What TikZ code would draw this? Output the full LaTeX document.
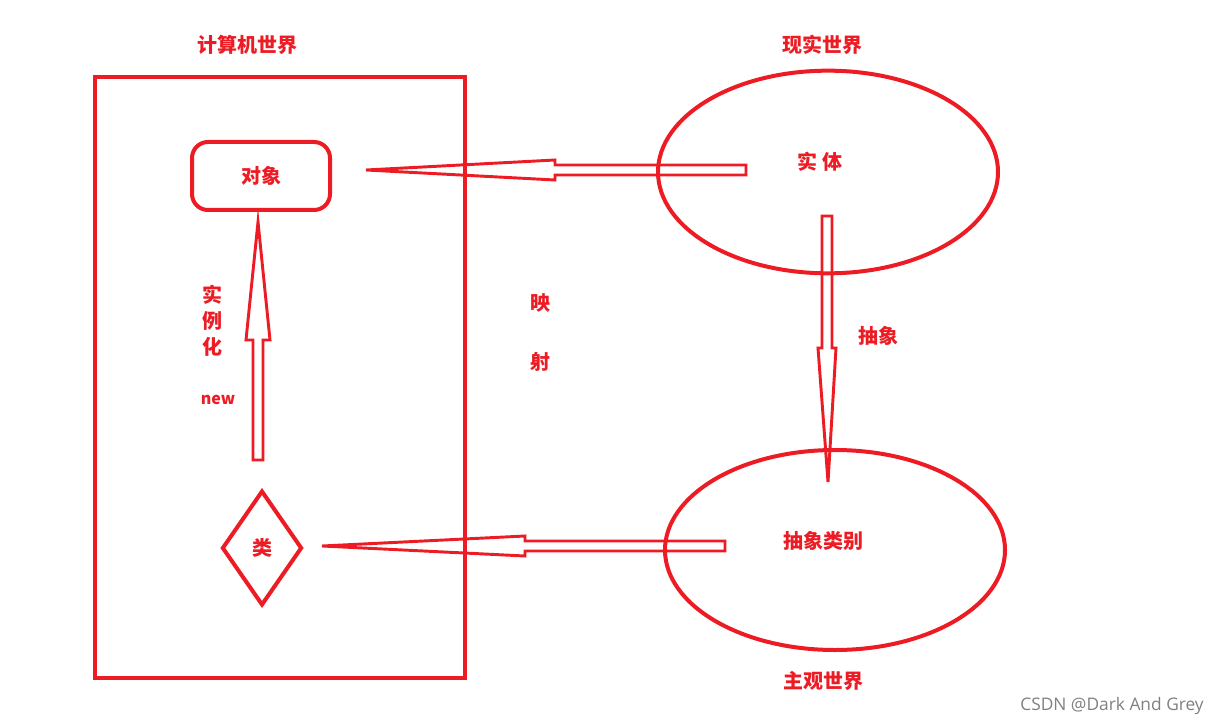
\documentclass[tikz,border=0pt]{standalone}
\usepackage{fontspec}
\newfontfamily\cjk{Noto Sans CJK SC}
\usetikzlibrary{shapes.geometric}
\definecolor{hongse}{RGB}{237,28,36}
\tikzset{
  biaoqian/.style={font=\cjk\bfseries\fontsize{15}{17}\selectfont, text=hongse},
  xian/.style={draw=hongse, line width=3pt},
  jiantou/.style={draw=hongse, line width=2.2pt, line join=miter}
}
\begin{document}
\begin{tikzpicture}[x=0.75pt, y=-0.75pt]
\useasboundingbox (0,0) rectangle (1216,727);

% --- Cajas y elipses ---
\draw[xian] (95,77) rectangle (465,678);
\node[xian, rounded corners=12pt, minimum width=103.5pt, minimum height=51pt, biaoqian] (duixiang) at (261,176) {对象};
\node[xian, diamond, minimum width=60pt, minimum height=86pt, inner sep=0pt, biaoqian] (lei) at (262,548) {类};
\node[xian, ellipse, minimum width=255pt, minimum height=152pt] (shiti) at (828,172) {};
\node[xian, ellipse, minimum width=255pt, minimum height=150pt] (leibie) at (835,550) {};

% --- Textos ---
\node[biaoqian] (jisuanji) at (247,45) {计算机世界};
\node[biaoqian] (xianshi) at (822,45) {现实世界};
\node[biaoqian] (zhuguan) at (823,681) {主观世界};
\node[biaoqian] at (820,162) {实\ 体};
\node[biaoqian] at (823,541) {抽象类别};
\node[biaoqian] at (878,336) {抽象};
\node[biaoqian] at (540,303) {映};
\node[biaoqian] at (540,362) {射};
\node[biaoqian] at (212,295) {实};
\node[biaoqian] at (212,321) {例};
\node[biaoqian] at (212,347) {化};
\node[biaoqian, font=\cjk\bfseries\fontsize{12}{14}\selectfont] at (218,400) {new};
\node[text=gray, font=\fontspec{Open Sans}\fontsize{13}{15}\selectfont] at (1112,706) {CSDN @Dark And Grey};

% --- Flechas huecas ---
% entidad -> objeto
\draw[jiantou] (746,165) -- (555,165) -- (555,160) -- (366,170) -- (555,180) -- (555,175) -- (746,175) -- cycle;
% clase abstracta -> clase
\draw[jiantou] (725,541) -- (525,541) -- (525,536) -- (322,546) -- (525,556) -- (525,551) -- (725,551) -- cycle;
% entidad -> clase abstracta
\draw[jiantou] (822,216) -- (822,348) -- (818,348) -- (828,482) -- (836,348) -- (832,348) -- (832,216) -- cycle;
% clase -> objeto
\draw[jiantou] (253,460) -- (253,340) -- (246,340) -- (258,222) -- (270,340) -- (263,340) -- (263,460) -- cycle;

\end{tikzpicture}
\end{document}
